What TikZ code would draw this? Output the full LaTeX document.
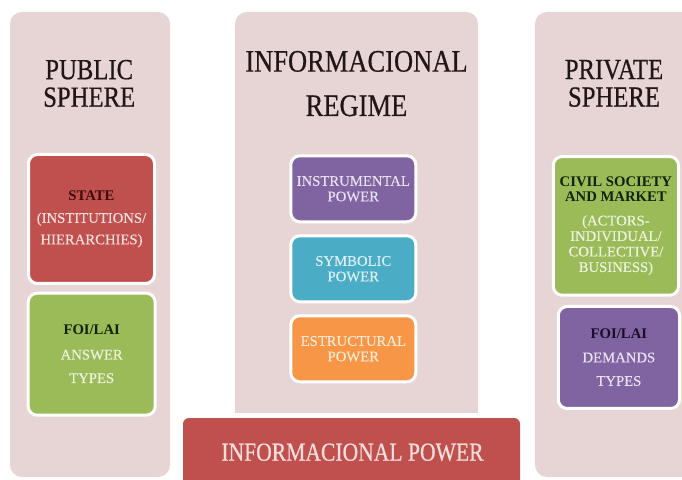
\documentclass[tikz,border=0pt]{standalone}
\usepackage{fontspec}
\setmainfont{Liberation Serif}
\newfontfamily\heavyserif[UprightFeatures={FakeBold=0.6}]{Liberation Serif}
\newfontfamily\smallserif[UprightFeatures={FakeBold=0.3}]{Liberation Serif}
\usetikzlibrary{positioning}
\definecolor{colbg}{RGB}{231,212,213}
\definecolor{redbox}{RGB}{192,80,77}
\definecolor{greenbox}{RGB}{155,187,89}
\definecolor{purplebox}{RGB}{128,100,162}
\definecolor{bluebox}{RGB}{75,172,198}
\definecolor{orangebox}{RGB}{247,150,70}
\definecolor{redtext}{RGB}{244,222,221}
\definecolor{greentext}{RGB}{236,243,222}
\definecolor{purpletext}{RGB}{231,225,240}
\definecolor{bluetext}{RGB}{220,240,246}
\definecolor{orangetext}{RGB}{253,233,212}
\definecolor{titletext}{RGB}{32,22,22}
\definecolor{darkred}{RGB}{58,12,12}
\definecolor{darkgreen}{RGB}{18,34,8}
\definecolor{darkpurple}{RGB}{24,14,44}
\newcommand{\talltext}[2]{\scalebox{1}[#1]{\begin{tabular}{@{}c@{}}#2\end{tabular}}}
\tikzset{
	colbox/.style={fill=colbg},
	pbox/.style={draw=white, line width=3pt, rounded corners=9pt, align=center, inner sep=2pt, font=\smallserif\fontsize{14.7}{15.5}\selectfont},
	coltitle/.style={text=titletext, inner sep=0pt}
}

\begin{document}
\begin{tikzpicture}[x=1pt,y=1pt]
	\useasboundingbox (0,0) rectangle (682,479);
	\clip (0,0) rectangle (682,479);
	%columns
	\fill[colbox, rounded corners=12pt] (10,2) rectangle (170,467);
	\fill[colbox] (235,66) -- (235,455) arc (180:90:12pt) -- (466,467) arc (90:0:12pt) -- (478,66) -- cycle;
	\fill[colbox, rounded corners=12pt] (535,2) rectangle (700,467);
	%bottom bar
	\fill[redbox, rounded corners=6pt] (183,-10) rectangle (520,61);
	\node[anchor=base, text=redtext, font=\heavyserif\fontsize{21.6}{24}\selectfont](power) at (352.5,18.3){\scalebox{1}[1.2]{INFORMACIONAL POWER}};
	%titles
	\node[coltitle, font=\heavyserif\fontsize{24.7}{23.2}\selectfont](public) at (89.2,391.6){\talltext{1.18}{PUBLIC\\SPHERE}};
	\node[coltitle, font=\heavyserif\fontsize{26.5}{23.5}\selectfont](regime) at (356.5,391.4){\talltext{1.18}{INFORMACIONAL\\[13pt]REGIME}};
	\node[coltitle, font=\heavyserif\fontsize{24.7}{23.2}\selectfont](private) at (614,391.7){\talltext{1.18}{PRIVATE\\SPHERE}};
	%leftpart
	\node[pbox, fill=redbox, text=redtext, minimum width=126pt, minimum height=129pt](state) at (91.5,260){\textcolor{darkred}{\textbf{STATE}}\\[7pt](INSTITUTIONS/\\[6pt]HIERARCHIES)};
	\node[pbox, fill=greenbox, text=greentext, minimum width=127pt, minimum height=122pt](answer) at (91.7,124.8){\textcolor{darkgreen}{\textbf{FOI/LAI}}\\[9pt]ANSWER\\[8pt]TYPES};
	%middlepart
	\node[pbox, fill=purplebox, text=purpletext, minimum width=125pt, minimum height=66pt](instrumental) at (353.3,290.2){INSTRUMENTAL\\POWER};
	\node[pbox, fill=bluebox, text=bluetext, minimum width=125pt, minimum height=66pt](symbolic) at (353.3,210.2){SYMBOLIC\\POWER};
	\node[pbox, fill=orangebox, text=orangetext, minimum width=125pt, minimum height=66pt](estructural) at (353.3,130.2){ESTRUCTURAL\\POWER};
	%rightpart
	\node[pbox, fill=greenbox, text=greentext, minimum width=125.3pt, minimum height=138.7pt](civil) at (615.9,253.1){\textcolor{darkgreen}{\textbf{CIVIL SOCIETY}}\\\textcolor{darkgreen}{\textbf{AND MARKET}}\\[8pt](ACTORS-\\INDIVIDUAL/\\COLLECTIVE/\\BUSINESS)};
	\node[pbox, fill=purplebox, text=purpletext, minimum width=121.3pt, minimum height=102pt](demands) at (618.9,121.5){\textcolor{darkpurple}{\textbf{FOI/LAI}}\\[8pt]DEMANDS\\[8pt]TYPES};
\end{tikzpicture}
\end{document}
